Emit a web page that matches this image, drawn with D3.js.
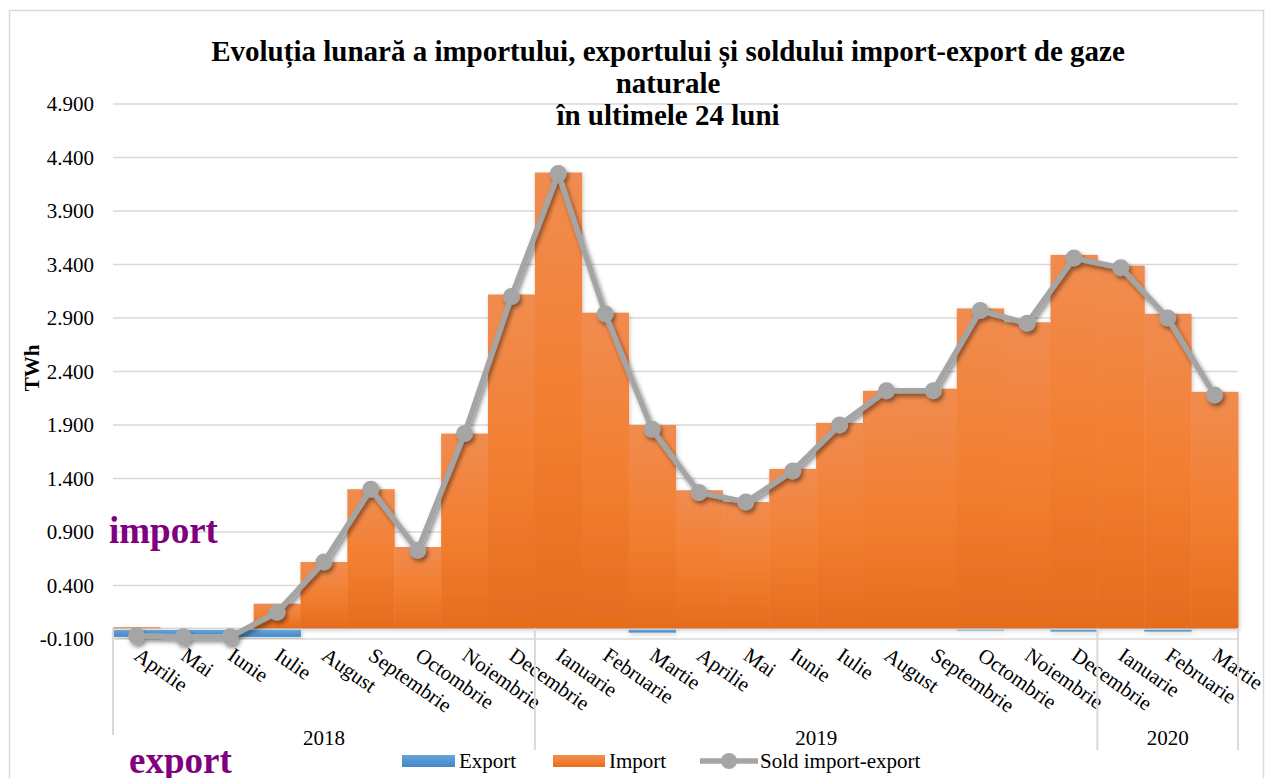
<!DOCTYPE html>
<html>
<head>
<meta charset="utf-8">
<script src="https://cdnjs.cloudflare.com/ajax/libs/d3/7.8.5/d3.min.js"></script>
<style>
  body { margin: 0; background: #fff; }
  svg { display: block; }
  text { font-family: "Liberation Serif", "Times New Roman", serif; }
</style>
</head>
<body>
<svg id="chart" width="1266" height="778"></svg>
<script>
// luni (categorii) si grupe de ani
var months = ["Aprilie", "Mai", "Iunie", "Iulie", "August", "Septembrie", "Octombrie", "Noiembrie", "Decembrie",
  "Ianuarie", "Februarie", "Martie", "Aprilie", "Mai", "Iunie", "Iulie", "August", "Septembrie", "Octombrie", "Noiembrie", "Decembrie",
  "Ianuarie", "Februarie", "Martie"];
var years = ["2018", "2019", "2020"];
var yearMonthCount = [9, 12, 3];

// valori TWh
var importVals = [0.01, 0.00, 0.00, 0.23, 0.62, 1.30, 0.76, 1.82, 3.12, 4.26, 2.95, 1.90,
  1.29, 1.18, 1.49, 1.92, 2.22, 2.24, 2.99, 2.86, 3.49, 3.39, 2.94, 2.21];
var exportVals = [-0.08, -0.08, -0.08, -0.08, -0.01, -0.01, -0.01, -0.01, -0.01, -0.01, -0.01, -0.04,
  -0.01, -0.01, -0.01, -0.01, -0.01, -0.01, -0.02, -0.01, -0.03, -0.01, -0.03, -0.01];
var soldVals = [-0.07, -0.08, -0.08, 0.15, 0.62, 1.30, 0.73, 1.82, 3.10, 4.25, 2.94, 1.86,
  1.27, 1.18, 1.47, 1.90, 2.22, 2.22, 2.97, 2.85, 3.46, 3.37, 2.90, 2.18];

var yTicks = [-0.1, 0.4, 0.9, 1.4, 1.9, 2.4, 2.9, 3.4, 3.9, 4.4, 4.9];

var svg = d3.select('#chart');
var plotLeft = 113, plotRight = 1238, plotTop = 104, plotBottom = 639;
var gridColor = '#d9d9d9';

var locale = d3.formatLocale({ decimal: '.', thousands: ',', grouping: [3], currency: ['', ''], minus: '-' });
var fmt = locale.format('.3f');

var x = d3.scaleBand().domain(d3.range(months.length)).range([plotLeft, plotRight]).paddingInner(0).paddingOuter(0);
var y = d3.scaleLinear().domain([-0.1, 4.9]).range([plotBottom, plotTop]);

// gradients + shadow
var defs = svg.append('defs');
var gOr = defs.append('linearGradient').attr('id', 'gOrange').attr('x1', 0).attr('y1', 0).attr('x2', 0).attr('y2', 1);
gOr.append('stop').attr('offset', '0%').attr('stop-color', '#f08c50');
gOr.append('stop').attr('offset', '50%').attr('stop-color', '#f37f31');
gOr.append('stop').attr('offset', '100%').attr('stop-color', '#e46c1e');
var gBl = defs.append('linearGradient').attr('id', 'gBlue').attr('x1', 0).attr('y1', 0).attr('x2', 0).attr('y2', 1);
gBl.append('stop').attr('offset', '0%').attr('stop-color', '#65a5dd');
gBl.append('stop').attr('offset', '100%').attr('stop-color', '#4587c7');
var sh = defs.append('filter').attr('id', 'shadow').attr('x', '-20%').attr('y', '-20%').attr('width', '140%').attr('height', '140%');
sh.append('feDropShadow').attr('dx', 2).attr('dy', 3).attr('stdDeviation', 2).attr('flood-color', '#000').attr('flood-opacity', 0.45);
var shBar = defs.append('filter').attr('id', 'shadowBar').attr('x', '-10%').attr('y', '-10%').attr('width', '120%').attr('height', '130%');
shBar.append('feDropShadow').attr('dx', 1).attr('dy', 2).attr('stdDeviation', 2).attr('flood-color', '#000').attr('flood-opacity', 0.2);

// chenar
svg.append('rect').attr('x', 9.5).attr('y', 10.5).attr('width', 1254).attr('height', 800)
  .attr('fill', 'none').attr('stroke', gridColor).attr('stroke-width', 1.5);

// axa Y + gridlines
var yAxis = d3.axisLeft(y).tickValues(yTicks).tickFormat(fmt).tickSize(0).tickPadding(0);
var yAxisGroup = svg.append('g').attr('transform', 'translate(' + plotLeft + ',0)').call(yAxis);
yAxisGroup.select('.domain').remove();
yAxisGroup.selectAll('text').attr('x', -19).attr('font-size', 21).attr('fill', '#000')
  .style('font-family', '"Liberation Serif", serif');
svg.append('g').selectAll('line').data(yTicks).join('line')
  .attr('x1', plotLeft).attr('x2', plotRight)
  .attr('y1', function (d) { return y(d); }).attr('y2', function (d) { return y(d); })
  .attr('stroke', gridColor).attr('stroke-width', 1.5);

// axa categoriilor la 0
svg.append('line').attr('x1', plotLeft).attr('x2', plotRight).attr('y1', y(0)).attr('y2', y(0))
  .attr('stroke', gridColor).attr('stroke-width', 1.5);

// bare import
svg.append('g').attr('filter', 'url(#shadowBar)').selectAll('rect').data(importVals).join('rect')
  .attr('x', function (d, i) { return x(i); })
  .attr('width', x.bandwidth() + 0.5)
  .attr('y', function (d) { return y(Math.max(0, d)); })
  .attr('height', function (d) { return Math.abs(y(d) - y(0)); })
  .attr('fill', 'url(#gOrange)');

// bare export
svg.append('g').attr('filter', 'url(#shadowBar)').selectAll('rect').data(exportVals).join('rect')
  .attr('x', function (d, i) { return x(i); })
  .attr('width', x.bandwidth() + 0.5)
  .attr('y', y(0) + 1.5)
  .attr('height', function (d) { return Math.max(0, y(d) - y(0) - 1.5); })
  .attr('fill', 'url(#gBlue)');

// linia sold
var line = d3.line()
  .x(function (d, i) { return x(i) + x.bandwidth() / 2; })
  .y(function (d) { return y(d); });
var soldG = svg.append('g').attr('filter', 'url(#shadow)');
soldG.append('path').datum(soldVals).attr('d', line)
  .attr('fill', 'none').attr('stroke', '#a5a5a5').attr('stroke-width', 5.5).attr('stroke-linejoin', 'round');
soldG.selectAll('circle').data(soldVals).join('circle')
  .attr('cx', function (d, i) { return x(i) + x.bandwidth() / 2; })
  .attr('cy', function (d) { return y(d); })
  .attr('r', 8.5)
  .attr('fill', '#a5a5a5');

// etichete luni
svg.append('g').selectAll('text').data(months).join('text')
  .attr('transform', function (d, i) {
    return 'translate(' + (x(i) + x.bandwidth() / 2 + 5) + ',' + (plotBottom + 7) + ') rotate(35)';
  })
  .attr('dominant-baseline', 'hanging')
  .attr('font-size', 21)
  .text(function (d) { return d; });

// separatoare ani si etichete
var bounds = [0];
yearMonthCount.forEach(function (c, i) { bounds.push(bounds[i] + c); });
svg.append('g').selectAll('line').data(bounds).join('line')
  .attr('x1', function (d) { return d < months.length ? x(d) : plotRight; })
  .attr('x2', function (d) { return d < months.length ? x(d) : plotRight; })
  .attr('y1', y(0)).attr('y2', function (d) { return d === 0 ? 735 : 750; })
  .attr('stroke', gridColor).attr('stroke-width', 2);
svg.append('g').selectAll('text').data(years).join('text')
  .attr('x', function (d, i) {
    var a = x(bounds[i]);
    var b = bounds[i + 1] < months.length ? x(bounds[i + 1]) : plotRight;
    return (a + b) / 2;
  })
  .attr('y', 745)
  .attr('text-anchor', 'middle')
  .attr('font-size', 21)
  .text(function (d) { return d; });

// titlu
var titleLines = ['Evoluția lunară a importului, exportului și soldului import-export de gaze', 'naturale', 'în ultimele 24 luni'];
svg.append('g').selectAll('text').data(titleLines).join('text')
  .attr('x', 668).attr('y', function (d, i) { return 61 + i * 32; })
  .attr('text-anchor', 'middle').attr('font-size', 29).attr('font-weight', 'bold')
  .text(function (d) { return d; });

// titlu axa Y
svg.append('text').attr('transform', 'translate(39,368) rotate(-90)')
  .attr('text-anchor', 'middle').attr('font-size', 21).attr('font-weight', 'bold').text('TWh');

// adnotari
svg.append('text').attr('x', 109).attr('y', 543).attr('font-size', 37).attr('font-weight', 'bold')
  .attr('fill', '#800080').text('import');
svg.append('text').attr('x', 129).attr('y', 773).attr('font-size', 37).attr('font-weight', 'bold')
  .attr('fill', '#800080').text('export');

// legenda
var legend = svg.append('g').attr('transform', 'translate(0,761)');
legend.append('rect').attr('x', 402).attr('y', -6).attr('width', 53).attr('height', 12).attr('fill', 'url(#gBlue)');
legend.append('text').attr('x', 459).attr('y', 7).attr('font-size', 21).text('Export');
legend.append('rect').attr('x', 553).attr('y', -6).attr('width', 52).attr('height', 12).attr('fill', 'url(#gOrange)');
legend.append('text').attr('x', 609).attr('y', 7).attr('font-size', 21).text('Import');
legend.append('line').attr('x1', 700).attr('x2', 758).attr('y1', 0).attr('y2', 0)
  .attr('stroke', '#a5a5a5').attr('stroke-width', 5.5);
legend.append('circle').attr('cx', 729).attr('cy', 0).attr('r', 8).attr('fill', '#a5a5a5');
legend.append('text').attr('x', 760).attr('y', 7).attr('font-size', 21).text('Sold import-export');
</script>
</body>
</html>
